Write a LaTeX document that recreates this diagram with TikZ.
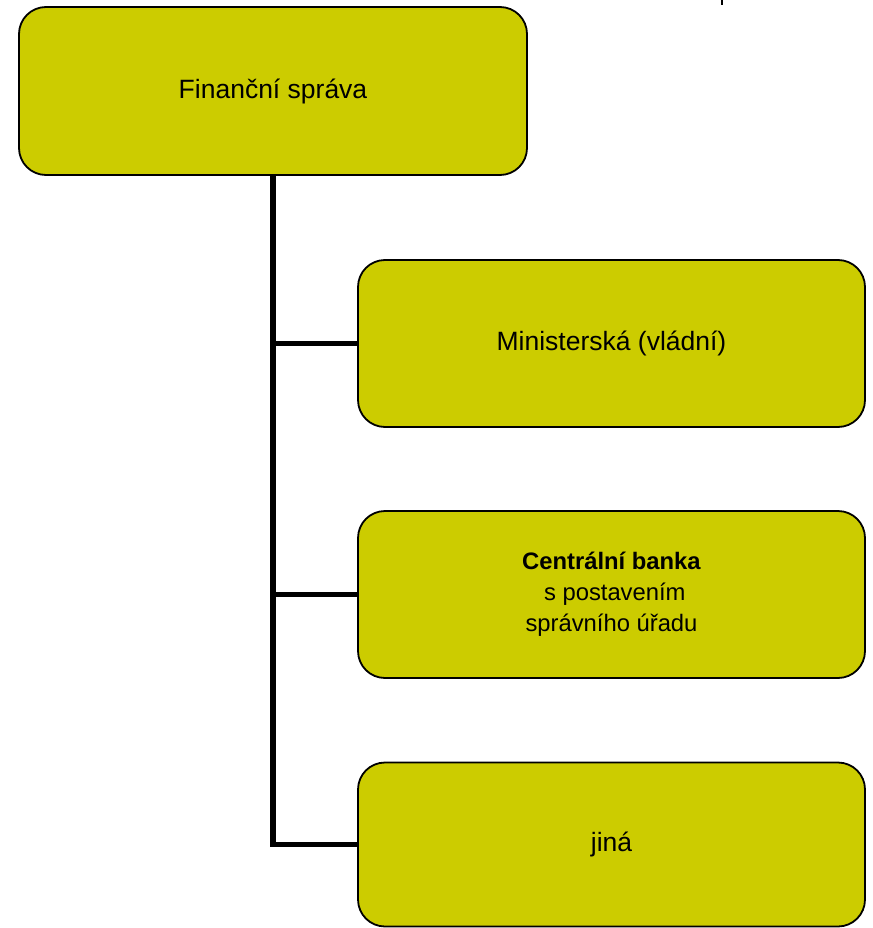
\documentclass[tikz,border=0pt]{standalone}
\usepackage{fontspec}
\setmainfont{Liberation Sans}
\definecolor{boxfill}{RGB}{204,204,0}
\begin{document}
\begin{tikzpicture}[x=1pt,y=-1pt,
  orgbox/.style={draw=black, line width=1.8pt, fill=boxfill, rounded corners=27pt,
    minimum width=507pt, minimum height=167pt, inner sep=0pt, align=center,
    font=\fontsize{26.5}{32}\selectfont},
  conn/.style={draw=black, line width=5.5pt}]
\useasboundingbox (0,0) rectangle (872,928);
\node[orgbox, minimum width=508pt, minimum height=168pt] (top) at (273,91) {Finanční správa};
\node[orgbox] (b2) at (611.5,343.5) {Ministerská (vládní)};
\node[orgbox, font=\fontsize{23.8}{31}\selectfont] (b3) at (611.5,594.5)
  {\textbf{Centrální banka}\\\hphantom{\ }s postavením\\správního úřadu};
\node[orgbox, minimum height=164pt] (b4) at (611.5,844.5) {jiná};
\draw[conn] (top.south) |- (b4.west);
\draw[conn] (top.south |- b2.west) -- (b2.west);
\draw[conn] (top.south |- b3.west) -- (b3.west);
\coordinate (tickA) at (722,0);
\coordinate (tickB) at (722,5.5);
\draw[line width=2pt] (tickA) -- (tickB);
\end{tikzpicture}
\end{document}
